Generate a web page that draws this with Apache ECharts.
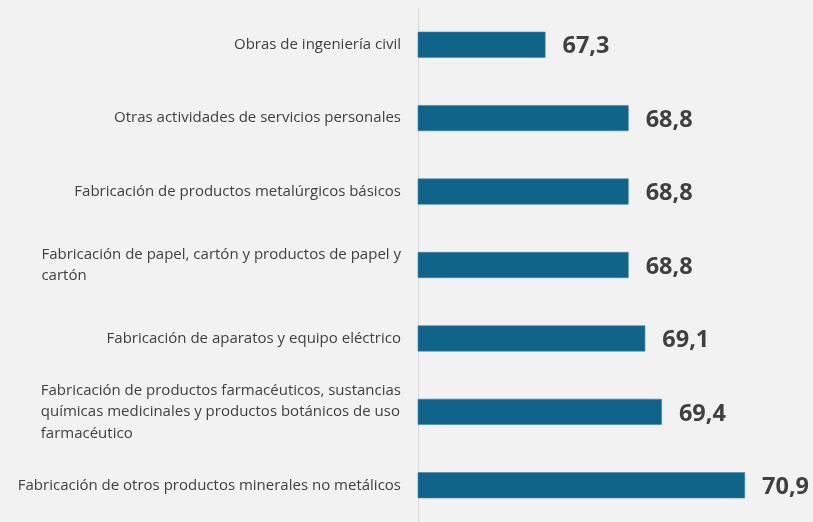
<!DOCTYPE html>
<html>
<head>
<meta charset="utf-8">
<script src="https://cdn.jsdelivr.net/npm/echarts@6/dist/echarts.min.js"></script>
<style>
html,body{margin:0;padding:0;background:#f2f2f2;}
#chart{width:813px;height:522px;}
</style>
</head>
<body>
<div id="chart"></div>
<script>
// Categories, top to bottom (lines as displayed)
const categories = [
  ["Obras de ingeniería civil"],
  ["Otras actividades de servicios personales"],
  ["Fabricación de productos metalúrgicos básicos"],
  ["Fabricación de papel, cartón y productos de papel y", "cartón"],
  ["Fabricación de aparatos y equipo eléctrico"],
  ["Fabricación de productos farmacéuticos, sustancias", "químicas medicinales y productos botánicos de uso", "farmacéutico"],
  ["Fabricación de otros productos minerales no metálicos"]
];
const values = [67.3, 68.8, 68.8, 68.8, 69.1, 69.4, 70.9];

const chart = echarts.init(document.getElementById('chart'), null, {renderer: 'canvas'});
const FONT = '"Open Sans", "Noto Sans", sans-serif';
const option = {
  backgroundColor: '#f2f2f2',
  animation: false,
  grid: {left: 418, right: 7, top: 8, bottom: -4, containLabel: false},
  xAxis: {
    type: 'value', min: 65, max: 72,
    show: false
  },
  yAxis: {
    type: 'category',
    inverse: true,
    data: categories.map(l => l.join('\n')),
    axisLine: {show: true, lineStyle: {color: '#d9d9d9', width: 1}},
    axisTick: {show: false},
    axisLabel: {
      margin: 17,
      align: 'right',
      formatter: function (v) {
        return v.split('\n').map(s => '{l|' + s + '}').join('\n');
      },
      rich: {
        l: {align: 'left', fontFamily: FONT, fontSize: 15, color: '#404040', lineHeight: 21.5}
      }
    }
  },
  series: [{
    type: 'bar',
    data: values,
    barWidth: 26,
    itemStyle: {color: '#106389', borderColor: '#3f85a6', borderWidth: 0.6},
    label: {
      show: true,
      position: 'right',
      distance: 17,
      offset: [0, 2],
      fontFamily: FONT,
      fontWeight: 'bold',
      fontSize: 23.5,
      color: '#404040',
      formatter: p => p.value.toFixed(1).replace('.', ',')
    }
  }]
};
chart.setOption(option);
</script>
</body>
</html>
